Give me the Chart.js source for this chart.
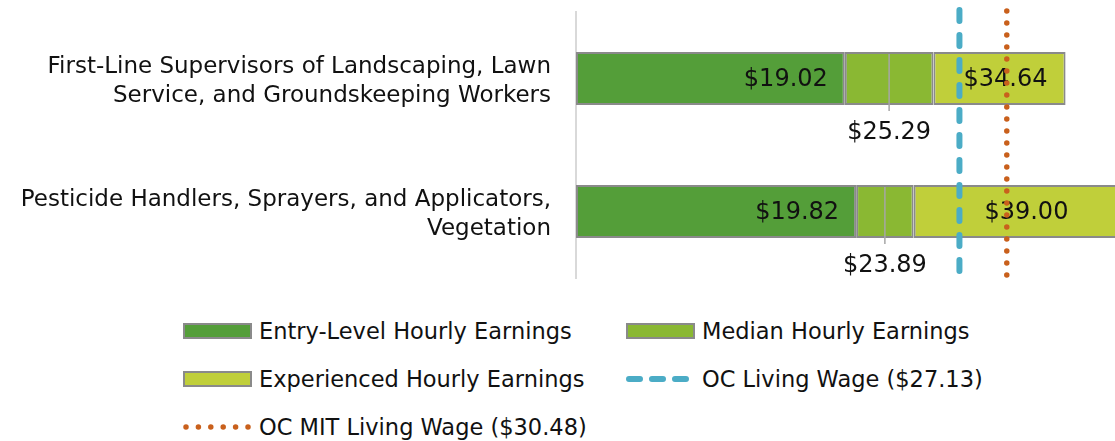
<!DOCTYPE html>
<html>
<head>
<meta charset="utf-8">
<script src="https://cdn.jsdelivr.net/npm/chart.js@4/dist/chart.umd.min.js"></script>
<style>
  html, body { margin: 0; padding: 0; background: #fff; overflow: hidden; }
  #wrap { position: relative; width: 1115px; height: 441px; overflow: hidden; }
  #chart { position: absolute; left: 0; top: 0; }
  .legend-item { position: absolute; display: flex; align-items: center; height: 30px;
    font: 22.5px "DejaVu Sans"; color: #111; white-space: nowrap; }
  .legend-item svg { margin-right: 7px; flex: none; }
</style>
</head>
<body>
<div id="wrap">
  <canvas id="chart" width="1212" height="290"></canvas>
  <div id="legend"></div>
</div>
<script>
// occupations (two lines each, like the original)
const occupations = [
    ['First-Line Supervisors of Landscaping, Lawn', 'Service, and Groundskeeping Workers'],
    ['Pesticide Handlers, Sprayers, and Applicators,', 'Vegetation']
];
const entryWage = [19.02, 19.82];
const medianWage = [25.29, 23.89];
const experiencedWage = [34.64, 39.00];
const livingWage = 27.13;
const mitLivingWage = 30.48;

const seriesNames = ['Entry-Level Hourly Earnings', 'Median Hourly Earnings', 'Experienced Hourly Earnings'];
const lineNames = ['OC Living Wage ($27.13)', 'OC MIT Living Wage ($30.48)'];
const seriesColors = ['#549e39', '#8ab833', '#c0cf3a'];
const livingColor = '#4bacc6';
const mitColor = '#c9601c';
const barBorder = '#8a8a8a';
const FONT = '"DejaVu Sans"';

const money = v => '$' + v.toFixed(2);

// stacked segments: entry, then the step up to median, then the step up to experienced
const segments = [
    entryWage,
    medianWage.map((v, i) => v - entryWage[i]),
    experiencedWage.map((v, i) => v - medianWage[i])
];

const valueLabels = {
    id: 'valueLabels',
    afterDatasetsDraw(chart) {
        const ctx = chart.ctx;
        ctx.save();
        ctx.fillStyle = '#111';
        ctx.textBaseline = 'middle';
        for (let i = 0; i < occupations.length; i++) {
            const e = chart.getDatasetMeta(0).data[i];
            const m = chart.getDatasetMeta(1).data[i];
            const x = chart.getDatasetMeta(2).data[i];
            const h = e.height;

            ctx.font = '24px ' + FONT;
            ctx.textAlign = 'right';
            ctx.fillText(money(entryWage[i]), e.x - 17, e.y + 1);

            ctx.textAlign = 'center';
            ctx.fillText(money(experiencedWage[i]), (x.x + x.base) / 2 + 6, x.y + 1);

            // median label sits under the bar with a leader line
            const cx = (m.x + m.base) / 2;
            ctx.strokeStyle = '#a6a6a6';
            ctx.lineWidth = 1.5;
            ctx.beginPath();
            ctx.moveTo(cx, m.y - h / 2 + 2);
            ctx.lineTo(cx, m.y + h / 2 + 6);
            ctx.stroke();
            ctx.fillText(money(medianWage[i]), cx, m.y + h / 2 + 28);
        }
        ctx.restore();
    }
};

const wageLines = {
    id: 'wageLines',
    afterDraw(chart) {
        const ctx = chart.ctx;
        const area = chart.chartArea;
        const xs = chart.scales.x;
        ctx.save();
        ctx.lineCap = 'round';

        let px = xs.getPixelForValue(livingWage);
        ctx.strokeStyle = livingColor;
        ctx.lineWidth = 6;
        ctx.setLineDash([11, 14]);
        ctx.beginPath();
        ctx.moveTo(px, area.top - 2);
        ctx.lineTo(px, area.bottom + 4);
        ctx.stroke();

        px = xs.getPixelForValue(mitLivingWage);
        ctx.strokeStyle = mitColor;
        ctx.lineWidth = 5.5;
        ctx.setLineDash([0, 12]);
        ctx.beginPath();
        ctx.moveTo(px, area.top - 1);
        ctx.lineTo(px, area.bottom + 4);
        ctx.stroke();
        ctx.restore();
    }
};

new Chart(document.getElementById('chart'), {
    type: 'bar',
    data: {
        labels: occupations,
        datasets: segments.map((seg, k) => ({
            label: seriesNames[k],
            data: seg,
            backgroundColor: seriesColors[k],
            borderColor: barBorder,
            borderWidth: 2,
            borderSkipped: false,
            barPercentage: 0.8,
            categoryPercentage: 0.5
        }))
    },
    options: {
        indexAxis: 'y',
        responsive: false,
        animation: false,
        devicePixelRatio: 1,
        layout: { padding: { top: 12, bottom: 12, left: 0, right: 0 } },
        plugins: {
            legend: { display: false },
            tooltip: { enabled: false }
        },
        scales: {
            x: {
                stacked: true,
                min: 0,
                max: 45,
                display: false
            },
            y: {
                stacked: true,
                grid: { display: false, drawTicks: false },
                border: { display: true, color: '#d9d9d9', width: 2 },
                ticks: {
                    color: '#111',
                    padding: 25,
                    labelOffset: 3,
                    font: { family: FONT, size: 23, lineHeight: 1.3 }
                },
                afterFit(scale) {
                    scale.width = 576;
                    scale.paddingTop = 0;
                    scale.paddingBottom = 0;
                }
            }
        }
    },
    plugins: [valueLabels, wageLines]
});

// legend below the plot, laid out in two columns like the original
const legendItems = [
    { name: seriesNames[0], kind: 'box', color: seriesColors[0] },
    { name: seriesNames[1], kind: 'box', color: seriesColors[1] },
    { name: seriesNames[2], kind: 'box', color: seriesColors[2] },
    { name: lineNames[0], kind: 'dash', color: livingColor },
    { name: lineNames[1], kind: 'dot', color: mitColor }
];
const cols = [183, 626];
const rowTop = 316, rowGap = 48;
const legend = document.getElementById('legend');
legendItems.forEach((item, n) => {
    const div = document.createElement('div');
    div.className = 'legend-item';
    div.style.left = cols[n % 2] + 'px';
    div.style.top = (rowTop + Math.floor(n / 2) * rowGap) + 'px';
    let svg;
    if (item.kind === 'box') {
        svg = `<svg width="69" height="16"><rect x="1" y="1" width="67" height="14" fill="${item.color}" stroke="${barBorder}" stroke-width="2"/></svg>`;
    } else if (item.kind === 'dash') {
        svg = `<svg width="69" height="16"><line x1="3" y1="8" x2="66" y2="8" stroke="${item.color}" stroke-width="6" stroke-linecap="round" stroke-dasharray="11 12"/></svg>`;
    } else {
        svg = `<svg width="69" height="16"><line x1="3" y1="8" x2="66" y2="8" stroke="${item.color}" stroke-width="5.5" stroke-linecap="round" stroke-dasharray="0 12.4"/></svg>`;
    }
    div.innerHTML = svg + '<span></span>';
    div.querySelector('span').textContent = item.name;
    legend.appendChild(div);
});
</script>
</body>
</html>
